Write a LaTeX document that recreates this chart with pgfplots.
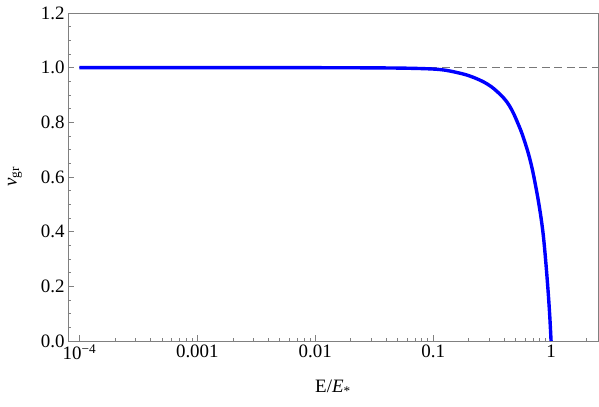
\documentclass[border=0pt]{standalone}
\usepackage{fontspec}
\setmainfont{Liberation Serif}
\usepackage{pgfplots}
\pgfplotsset{compat=1.18}
\usetikzlibrary{calc}

\definecolor{framegray}{RGB}{128,128,128}
\definecolor{dashgray}{RGB}{120,120,120}

\begin{document}
\begin{tikzpicture}
\begin{axis}[
    scale only axis,
    width=530bp, height=328bp,
    xmode=log,
    xmin=8e-5, xmax=2.5,
    ymin=0, ymax=1.2,
    xtick={1e-4,1e-3,1e-2,1e-1,1},
    xticklabels={10\textsuperscript{−4},0.001,0.01,0.1,1},
    minor xtick={2e-4,3e-4,4e-4,5e-4,6e-4,7e-4,8e-4,9e-4,
                 2e-3,3e-3,4e-3,5e-3,6e-3,7e-3,8e-3,9e-3,
                 2e-2,3e-2,4e-2,5e-2,6e-2,7e-2,8e-2,9e-2,
                 0.2,0.3,0.4,0.5,0.6,0.7,0.8,0.9,2},
    ytick={0,0.2,...,1.2},
    minor y tick num=3,
    yticklabel style={/pgf/number format/.cd, fixed, fixed zerofill, precision=1},
    /pgf/number format/assume math mode=true,
    tick pos=left,
    tick align=inside,
    major tick length=6bp,
    minor tick length=3.5bp,
    every tick/.style={framegray, line width=0.6bp},
    axis line style={framegray, line width=0.8bp},
    tick label style={font=\fontsize{19}{22}\selectfont, black},
    label style={font=\fontsize{19}{22}\selectfont},
    xlabel={E/\textit{E}\textsubscript{*}},
    ylabel={\textit{v}\textsubscript{gr}},
    xlabel style={yshift=-14bp},
    ylabel style={yshift=12bp},
    clip=true,
]
\coordinate (sw) at (rel axis cs:0,0);
\coordinate (ne) at (rel axis cs:1,1);
% reference line v = 1
\addplot[dashgray, line width=1.1bp, dash pattern=on 8bp off 4.5bp] coordinates {(1e-4,1) (2.5,1)};
% group velocity
\addplot[blue, line width=3.4bp, smooth, tension=0.55] coordinates {
    (1e-4,1.0) (1e-3,1.0) (1e-2,0.9999) (0.03,0.9993) (0.06,0.998)
    (0.1,0.995) (0.13,0.99) (0.16,0.982) (0.19,0.974) (0.23,0.961)
    (0.27,0.947) (0.31,0.931) (0.35,0.912) (0.40,0.887) (0.44,0.863)
    (0.48,0.833) (0.52,0.799) (0.56,0.765) (0.60,0.727) (0.64,0.688)
    (0.68,0.644) (0.71,0.607) (0.74,0.567) (0.77,0.527) (0.80,0.484)
    (0.83,0.438) (0.86,0.385) (0.89,0.318) (0.92,0.244) (0.95,0.165)
    (0.975,0.09) (1.0,0.0)
};
\end{axis}
\pgfresetboundingbox
\path[use as bounding box] ($(sw)+(-68bp,-66bp)$) rectangle ($(ne)+(1bp,13bp)$);
\end{tikzpicture}
\end{document}
